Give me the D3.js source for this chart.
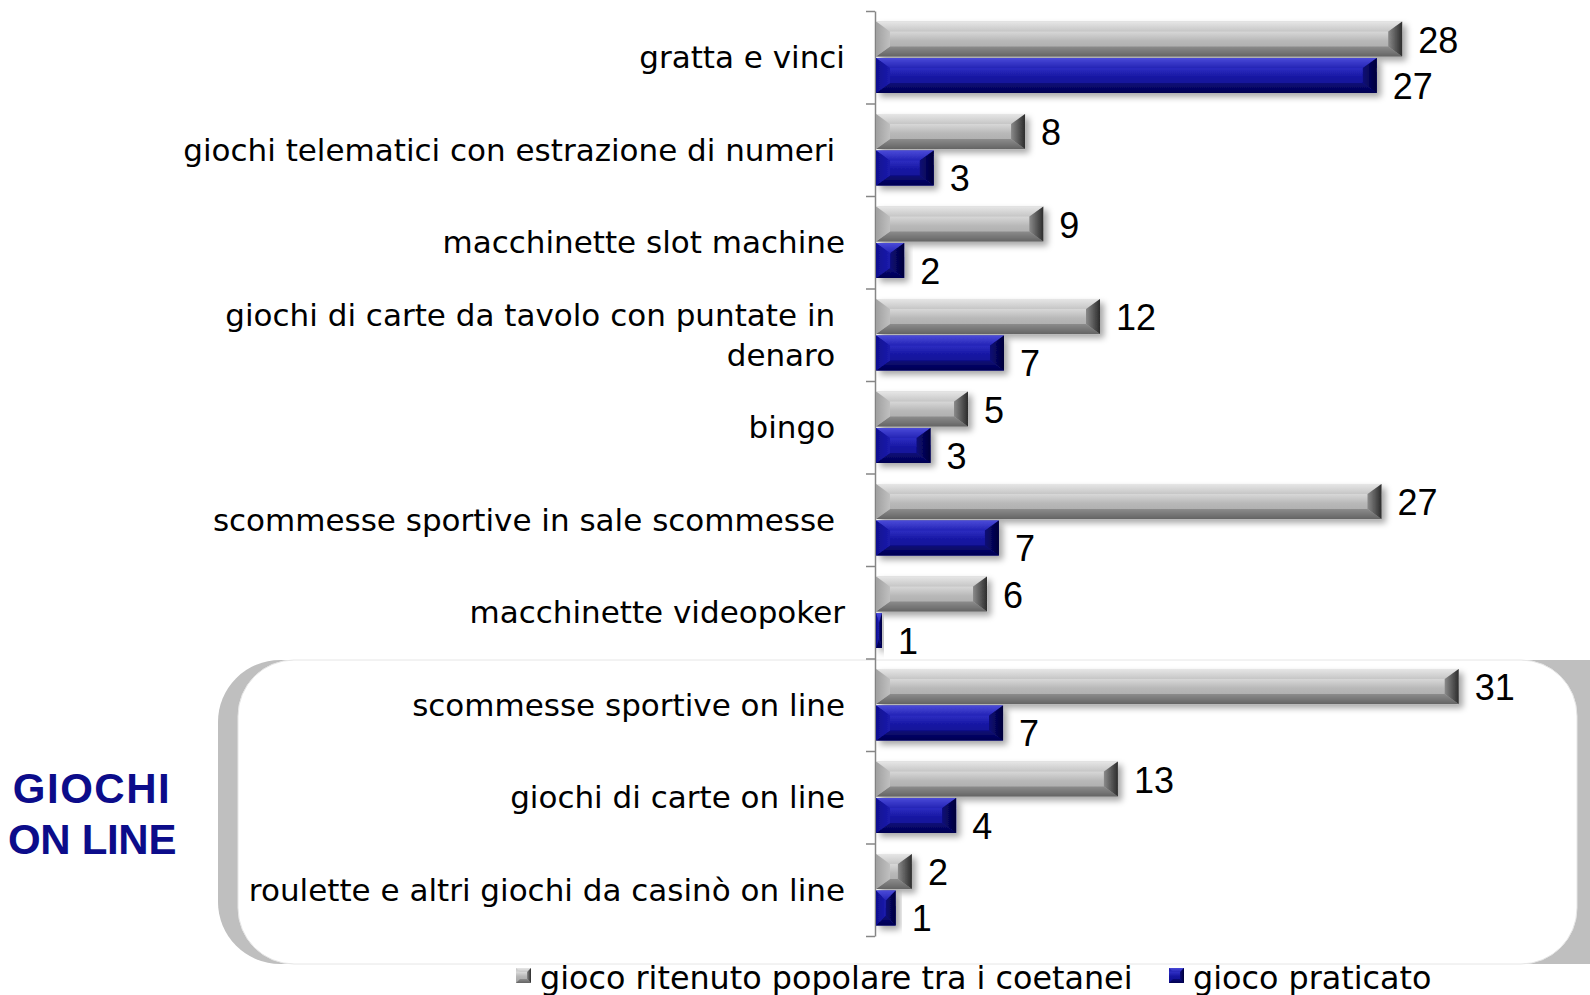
<!DOCTYPE html>
<html><head><meta charset="utf-8">
<script src="https://cdn.jsdelivr.net/npm/d3@7"></script>
<style>
html,body{margin:0;padding:0;background:#fff;}
svg{display:block;font-family:"DejaVu Sans",sans-serif;}
</style></head><body>
<svg id="chart" width="1590" height="995"></svg>
<script>
const categories = [
  "gratta e vinci",
  "giochi telematici con estrazione di numeri ",
  "macchinette slot machine",
  "giochi di carte da tavolo con puntate in \ndenaro ",
  "bingo ",
  "scommesse sportive in sale scommesse ",
  "macchinette videopoker",
  "scommesse sportive on line",
  "giochi di carte on line",
  "roulette e altri giochi da casinò on line"
];
// bar lengths
const popularValues   = [28, 7.97, 8.94, 11.95, 4.94, 26.9, 5.95, 31.0, 12.9, 1.96];
const practicedValues = [26.65, 3.12, 1.55, 6.85, 2.95, 6.58, 0.37, 6.8, 4.31, 1.1];
// data labels as printed
const popularLabels   = ["28", "8", "9", "12", "5", "27", "6", "31", "13", "2"];
const practicedLabels = ["27", "3", "2", "7", "3", "7", "1", "7", "4", "1"];
const seriesNames = ["gioco ritenuto popolare tra i coetanei", "gioco praticato"];
const groupTitle = ["GIOCHI", "ON LINE"];
const onlineIdx = [7, 8, 9];
const xDomain = [0, 35];

const svg = d3.select("#chart");
const x = d3.scaleLinear().domain(xDomain).range([875, 1534]);
const y = d3.scaleBand().domain(d3.range(categories.length)).range([11, 936]);
const ySub = d3.scaleBand().domain([0, 1]).range([0, y.bandwidth()]).paddingInner(0.041).paddingOuter(0.288);

const defs = svg.append("defs");
function lg(id, stops, vertical = true) {
  const g = defs.append("linearGradient").attr("id", id)
    .attr("x1", 0).attr("y1", 0).attr("x2", vertical ? 0 : 1).attr("y2", vertical ? 1 : 0);
  stops.forEach(([o, c]) => g.append("stop").attr("offset", o).attr("stop-color", c));
}
const palettes = [
  { id: "g",
    face: [[0, "#c4c4c4"], [0.3, "#d6d6d6"], [0.55, "#b8b8b8"], [1, "#a4a4a4"]],
    top: [[0, "#e6e6e6"], [1, "#c6c6c6"]],
    bottom: [[0, "#8c8c8c"], [1, "#646464"]],
    left: [[0, "#a0a0a0"], [1, "#c0c0c0"]],
    right: [[0, "#8a8a8a"], [1, "#2c2c2c"]] },
  { id: "b",
    face: [[0, "#1a1aa8"], [0.3, "#2c2cc0"], [0.55, "#1616a2"], [1, "#0e0e8e"]],
    top: [[0, "#4a4ad8"], [1, "#2424b6"]],
    bottom: [[0, "#0a0a78"], [1, "#020250"]],
    left: [[0, "#0e0e90"], [1, "#1c1cac"]],
    right: [[0, "#0c0c78"], [1, "#000038"]] }
];
palettes.forEach(p => {
  lg(p.id + "face", p.face, true);
  lg(p.id + "top", p.top, true);
  lg(p.id + "bottom", p.bottom, true);
  lg(p.id + "left", p.left, false);
  lg(p.id + "right", p.right, false);
});
const f = defs.append("filter").attr("id", "shadow").attr("x", "-10%").attr("y", "-30%").attr("width", "140%").attr("height", "190%");
f.append("feDropShadow").attr("dx", 4).attr("dy", 4).attr("stdDeviation", 3)
  .attr("flood-color", "#000").attr("flood-opacity", 0.35);

// Bracket for on-line group
const bTop = y(onlineIdx[0]) + 1.5;
const bBot = y(onlineIdx[onlineIdx.length - 1]) + y.bandwidth() + 28;
svg.append("rect").attr("x", 218).attr("y", bTop).attr("width", 1440).attr("height", bBot - bTop)
  .attr("rx", 62).attr("fill", "#bfbfbf");
svg.append("rect").attr("x", 238).attr("y", bTop).attr("width", 1577 - 238).attr("height", bBot - bTop)
  .attr("rx", 56).attr("fill", "#fff").attr("stroke", "#e6e6e6").attr("stroke-width", 1);

svg.append("g").attr("fill", "#0c0c8a").attr("font-family", "Liberation Sans, Arial, sans-serif")
  .attr("font-weight", "bold").attr("font-size", 42).attr("text-anchor", "middle")
  .selectAll("text").data(groupTitle).join("text")
  .attr("x", 92).attr("y", (d, i) => (bTop + bBot) / 2 + 2 + (i - 0.5) * 51)
  .attr("letter-spacing", (d, i) => i === 0 ? 1.5 : -0.3)
  .attr("dominant-baseline", "central").text(d => d);

// Axis
const tickScale = d3.scaleLinear().domain([0, categories.length]).range(y.range());
const axis = svg.append("g").attr("transform", `translate(${x(0)},0)`)
  .call(d3.axisLeft(tickScale).ticks(categories.length).tickFormat("").tickSize(9).tickSizeOuter(0));
axis.selectAll("path,line").attr("stroke", "#868686").attr("stroke-width", 1.5);

// Category labels
const labelG = svg.append("g").attr("font-size", 31).attr("fill", "#000").attr("text-anchor", "end");
categories.forEach((c, i) => {
  const lines = c.split("\n");
  const cy = y(i) + y.bandwidth() / 2;
  lines.forEach((l, j) => {
    labelG.append("text").attr("x", 845)
      .attr("y", cy + (j - (lines.length - 1) / 2) * 40)
      .attr("dominant-baseline", "central").text(l.replace(/ $/, "\u00A0"));
  });
});

// Bars
function drawBar(g, v, yt, h, p) {
  const x0 = x(0) + 1, x1 = x(v), w = x1 - x0;
  const bx = Math.min(14, w / 2), by = Math.min(10, h / 2);
  const bg = g.append("g").attr("filter", "url(#shadow)");
  bg.append("rect").attr("x", x0).attr("y", yt).attr("width", w).attr("height", h).attr("fill", `url(#${p.id}face)`);
  const poly = (pts, fill) => bg.append("polygon").attr("points", pts.map(q => q.join(",")).join(" ")).attr("fill", fill);
  poly([[x0, yt], [x1, yt], [x1 - bx, yt + by], [x0 + bx, yt + by]], `url(#${p.id}top)`);
  poly([[x0, yt + h], [x1, yt + h], [x1 - bx, yt + h - by], [x0 + bx, yt + h - by]], `url(#${p.id}bottom)`);
  poly([[x0, yt], [x0 + bx, yt + by], [x0 + bx, yt + h - by], [x0, yt + h]], `url(#${p.id}left)`);
  poly([[x1, yt], [x1 - bx, yt + by], [x1 - bx, yt + h - by], [x1, yt + h]], `url(#${p.id}right)`);
}
const barsG = svg.append("g");
const valG = svg.append("g").attr("font-family", "Liberation Sans, Arial, sans-serif").attr("font-size", 36).attr("fill", "#000");
[[popularValues, popularLabels], [practicedValues, practicedLabels]].forEach(([series, labels], s) => {
  series.forEach((v, i) => {
    const yt = y(i) + ySub(s);
    drawBar(barsG, v, yt, ySub.bandwidth(), palettes[s]);
    valG.append("text").attr("x", x(v) + 16)
      .attr("y", yt + ySub.bandwidth() / 2 + (s === 1 ? 11 : 1))
      .attr("dominant-baseline", "central").text(labels[i]);
  });
});

// Legend
const legX = [516, 1169];
const legG = svg.append("g");
seriesNames.forEach((n, s) => {
  const g = legG.append("g");
  const p = palettes[s];
  const lx = legX[s], ly = 968, sz = 15, b = 4;
  g.append("rect").attr("x", lx).attr("y", ly).attr("width", sz).attr("height", sz).attr("fill", `url(#${p.id}face)`);
  const poly = (pts, fill) => g.append("polygon").attr("points", pts.map(q => q.join(",")).join(" ")).attr("fill", fill);
  poly([[lx, ly], [lx + sz, ly], [lx + sz - b, ly + b], [lx + b, ly + b]], `url(#${p.id}top)`);
  poly([[lx, ly + sz], [lx + sz, ly + sz], [lx + sz - b, ly + sz - b], [lx + b, ly + sz - b]], `url(#${p.id}bottom)`);
  poly([[lx + sz, ly], [lx + sz - b, ly + b], [lx + sz - b, ly + sz - b], [lx + sz, ly + sz]], `url(#${p.id}right)`);
  g.append("text").attr("x", lx + 24).attr("y", 977).attr("dominant-baseline", "central")
    .attr("font-size", 31.8).text(n);
});
</script>
</body></html>
